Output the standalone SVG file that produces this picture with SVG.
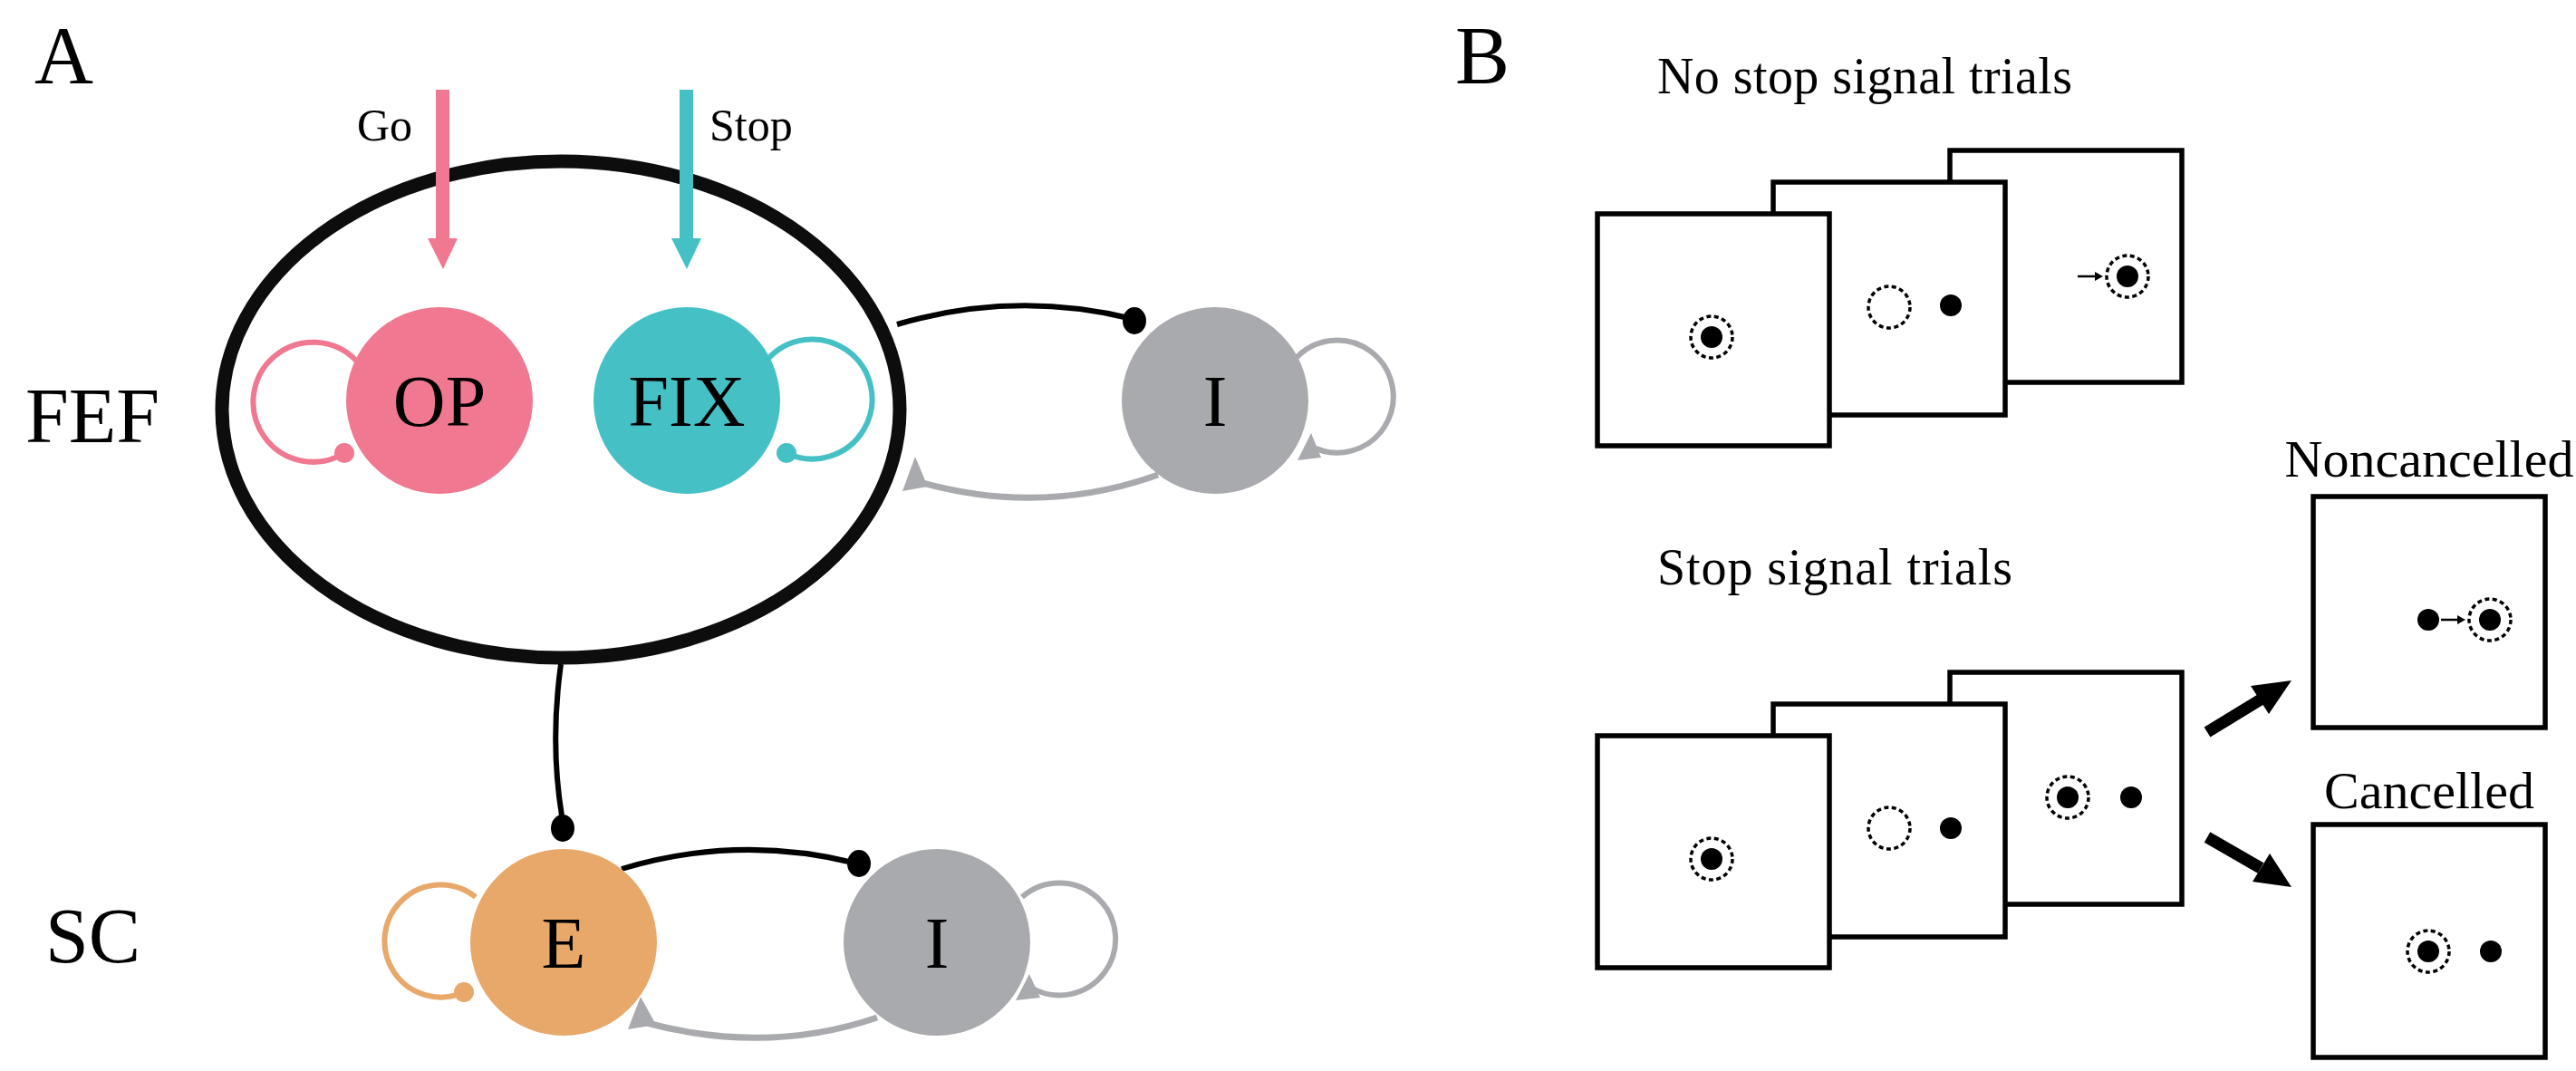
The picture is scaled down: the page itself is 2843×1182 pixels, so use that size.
<svg xmlns="http://www.w3.org/2000/svg" width="2843" height="1182" viewBox="0 0 2843 1182">
<style>
text{font-family:"Liberation Serif","Times New Roman",serif;fill:#000}
.lbl{font-size:90px}
.node{font-size:80px;text-anchor:middle}
.frame{fill:#fff;stroke:#000;stroke-width:5.5}
.ring{fill:none;stroke:#000;stroke-width:3.5;stroke-dasharray:5 3.5}
.loop{fill:none;stroke-width:6}
</style>
<rect width="2843" height="1182" fill="#fff"/>
<text class="lbl" x="38" y="92">A</text>
<text class="lbl" x="28" y="488" style="font-size:86px">FEF</text>
<text class="lbl" x="50" y="1062" style="font-size:86px">SC</text>
<g id="fef-ellipse"><ellipse cx="619" cy="452" rx="374" ry="274" fill="none" stroke="#0d0d0d" stroke-width="15"/></g>
<g id="connectors">
<path d="M990,358 Q1120,320 1250,352" fill="none" stroke="#000" stroke-width="6"/>
<ellipse cx="1252" cy="354" rx="13" ry="15"/>
<path d="M1278,524 Q1150,570 1015,532" fill="none" stroke="#a9aaad" stroke-width="7"/>
<polygon points="996,542 1010,504 1024,537" fill="#a9aaad"/>
<path d="M619,733 Q607,820 620,900" fill="none" stroke="#000" stroke-width="6"/>
<ellipse cx="621" cy="914" rx="13" ry="15"/>
<path d="M686,959 Q815,920 946,953" fill="none" stroke="#000" stroke-width="6"/>
<ellipse cx="948" cy="953" rx="13" ry="15"/>
<path d="M968,1123 Q845,1165 710,1128" fill="none" stroke="#a9aaad" stroke-width="7"/>
<polygon points="693,1136 707,1100 724,1131" fill="#a9aaad"/>
<rect x="481" y="99" width="15" height="168" fill="#f07890"/>
<polygon points="472,263 505,263 489,297" fill="#f07890"/>
<rect x="750" y="99" width="15" height="168" fill="#45c1c6"/>
<polygon points="741,263 774,263 758,297" fill="#45c1c6"/>
</g>
<text x="394" y="155" style="font-size:50px">Go</text>
<text x="783" y="155" style="font-size:50px">Stop</text>
<g id="OP"><path class="loop" stroke="#f07890" d="M393,398 A66 66 0 1 0 380,500"/><circle cx="380" cy="500" r="11" fill="#f07890"/>
<circle cx="485" cy="442" r="103" fill="#f07890"/><text class="node" x="485" y="470">OP</text></g>
<g id="FIX"><path class="loop" stroke="#45c1c6" d="M846,398 A66 66 0 1 1 868,500"/><circle cx="868" cy="500" r="11" fill="#45c1c6"/>
<circle cx="758" cy="442" r="103" fill="#45c1c6"/><text class="node" x="758" y="470">FIX</text></g>
<g id="I-FEF"><path class="loop" stroke="#a9aaad" d="M1428,398 A62 62 0 1 1 1446,492"/><polygon points="1432,508 1458,505 1447,478" fill="#a9aaad"/>
<circle cx="1341" cy="442" r="103" fill="#a9aaad"/><text class="node" x="1341" y="470">I</text></g>
<g id="E"><path class="loop" stroke="#e8a86a" d="M525,990 A62 62 0 1 0 512,1095"/><circle cx="512" cy="1095" r="11" fill="#e8a86a"/>
<circle cx="622" cy="1040" r="103" fill="#e8a86a"/><text class="node" x="622" y="1068">E</text></g>
<g id="I-SC"><path class="loop" stroke="#a9aaad" d="M1128,990 A62 62 0 1 1 1138,1090"/><polygon points="1121,1104 1148,1101 1136,1075" fill="#a9aaad"/>
<circle cx="1034" cy="1040" r="103" fill="#a9aaad"/><text class="node" x="1034" y="1068">I</text></g>

<text class="lbl" x="1606" y="92">B</text>
<text x="1829" y="103" style="font-size:56px" textLength="458">No stop signal trials</text>
<text x="1829" y="645" style="font-size:56px" textLength="392">Stop signal trials</text>
<text x="2681" y="526" style="font-size:58px" text-anchor="middle">Noncancelled</text>
<text x="2681" y="892" style="font-size:58px" text-anchor="middle">Cancelled</text>
<g id="no-stop">
<rect class="frame" x="2152" y="166" width="256" height="256"/>
<circle class="ring" cx="2348" cy="305" r="23"/><circle cx="2348" cy="305" r="12"/>
<line x1="2293" y1="305" x2="2312" y2="305" stroke="#000" stroke-width="2.5"/><polygon points="2312,300 2321,305 2312,310"/>
<rect class="frame" x="1957" y="201" width="256" height="257"/>
<circle class="ring" cx="2085" cy="339" r="23"/><circle cx="2153" cy="337" r="12"/>
<rect class="frame" x="1763" y="236" width="256" height="256"/>
<circle class="ring" cx="1889" cy="372" r="23"/><circle cx="1889" cy="372" r="12"/>
</g>
<g id="stop">
<rect class="frame" x="2152" y="742" width="256" height="256"/>
<circle class="ring" cx="2282" cy="880" r="23"/><circle cx="2282" cy="880" r="12"/><circle cx="2352" cy="880" r="12"/>
<rect class="frame" x="1957" y="777" width="256" height="257"/>
<circle class="ring" cx="2085" cy="914" r="23"/><circle cx="2153" cy="914" r="12"/>
<rect class="frame" x="1763" y="812" width="256" height="256"/>
<circle class="ring" cx="1889" cy="948" r="23"/><circle cx="1889" cy="948" r="12"/>
</g>
<g id="outcomes">
<rect class="frame" x="2553" y="548" width="256" height="255"/>
<circle cx="2680" cy="684" r="12"/><line x1="2694" y1="684" x2="2713" y2="684" stroke="#000" stroke-width="2.5"/><polygon points="2712,679 2721,684 2712,689"/>
<circle class="ring" cx="2748" cy="684" r="23"/><circle cx="2748" cy="684" r="12"/>
<rect class="frame" x="2553" y="910" width="256" height="257"/>
<circle class="ring" cx="2680" cy="1050" r="23"/><circle cx="2680" cy="1050" r="12"/><circle cx="2749" cy="1050" r="12"/>
</g>
<g id="outcome-arrows">
<line x1="2436" y1="808" x2="2495" y2="772" stroke="#000" stroke-width="13"/>
<polygon points="2529,751 2484,757 2504,788"/>
<line x1="2436" y1="924" x2="2495" y2="958" stroke="#000" stroke-width="13"/>
<polygon points="2529,979 2505,942 2486,973"/>
</g>
</svg>
